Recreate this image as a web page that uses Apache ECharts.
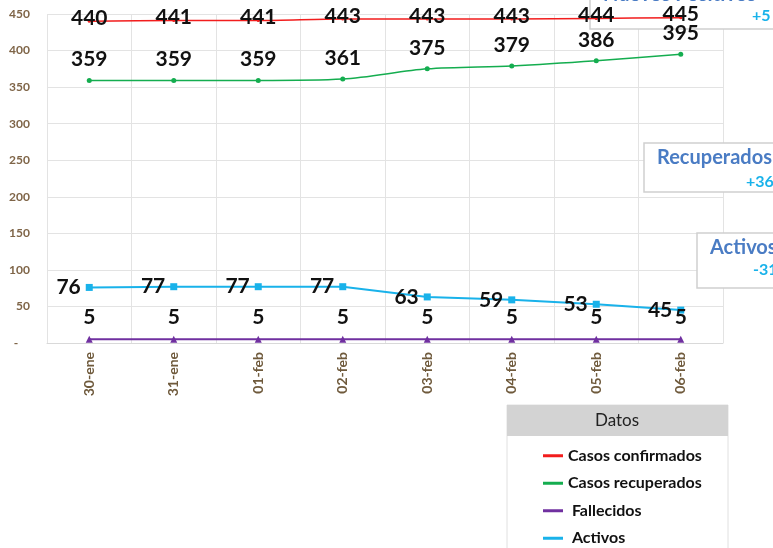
<!DOCTYPE html>
<html lang="es">
<head>
    <meta charset="UTF-8">
    <title>Casos</title>
    <script src="https://cdn.jsdelivr.net/npm/echarts@6/dist/echarts.min.js"></script>
    <style>
        body { margin: 0; background: #fff; }
        #chart { width: 773px; height: 548px; }
    </style>
</head>
<body>
    <div id="chart"></div>

    <script>
        var fechas = ['30-ene', '31-ene', '01-feb', '02-feb', '03-feb', '04-feb', '05-feb', '06-feb'];
        var confirmados = [440, 441, 441, 443, 443, 443, 444, 445];
        var recuperados = [359, 359, 359, 361, 375, 379, 386, 395];
        var fallecidos = [5, 5, 5, 5, 5, 5, 5, 5];
        var activos = [76, 77, 77, 77, 63, 59, 53, 45];

        var fuente = 'Lato';
        var etiqueta = { show: true, color: '#111', fontWeight: 'bold', fontSize: 21, fontFamily: fuente };

        var chartDom = document.getElementById('chart');
        var myChart = echarts.init(chartDom);

        // cajas de texto a la derecha (por encima de la rejilla, por debajo de las series)
        function caja(x, y, w, h, titulo, ty, valor, vx, vy) {
            return {
                type: 'group',
                children: [
                    { type: 'rect', z: 1, shape: { x: x, y: y, width: w, height: h },
                      style: { fill: '#fff', stroke: '#d0d0d0', lineWidth: 1.5 } },
                    { type: 'text', z: 1, style: { x: x + 13, y: ty, text: titulo, fill: '#4a7cc4',
                      font: 'bold 20px ' + fuente, verticalAlign: 'middle' } },
                    { type: 'text', z: 1, style: { x: vx, y: vy, text: valor, fill: '#19b2ea',
                      font: 'bold 16px ' + fuente, verticalAlign: 'middle' } }
                ]
            };
        }

        var option = {
            animation: false,
            grid: { left: 47, right: 50, top: 14, bottom: 205 },
            xAxis: {
                type: 'category',
                data: fechas,
                axisTick: { show: false },
                axisLine: { lineStyle: { color: '#d9d9d9' } },
                splitLine: { show: true, lineStyle: { color: '#e3e3e3' } },
                axisLabel: { rotate: 90, color: '#6f5a3c', fontWeight: 'bold', fontSize: 14, fontFamily: fuente, margin: 9 }
            },
            yAxis: {
                type: 'value',
                min: 0,
                max: 450,
                interval: 50,
                axisLine: { show: false },
                axisTick: { show: false },
                splitLine: { lineStyle: { color: '#e3e3e3' } },
                axisLabel: {
                    color: '#7f6548', fontWeight: 'bold', fontSize: 12, fontFamily: fuente, margin: 17,
                    formatter: function (v) { return v === 0 ? '-    ' : v; }
                }
            },
            legend: {
                orient: 'vertical',
                left: 538,
                top: 437,
                height: 200,
                icon: 'rect',
                itemWidth: 20,
                itemHeight: 3,
                itemGap: 0,
                textStyle: { color: '#111', fontWeight: 'bold', fontSize: 16, fontFamily: fuente, lineHeight: 27.5 },
                formatter: function (n) {
                    return n === 'Fallecidos' || n === 'Activos' ? ' ' + n : n;
                },
                data: ['Casos confirmados', 'Casos recuperados', 'Fallecidos', 'Activos']
            },
            graphic: [
                { type: 'rect', shape: { x: 507, y: 405, width: 221, height: 150 },
                  style: { fill: '#fff', stroke: '#e0e0e0', lineWidth: 1 }, z: -1 },
                { type: 'rect', shape: { x: 507, y: 405, width: 221, height: 31 },
                  style: { fill: '#d3d3d3' }, z: -1 },
                { type: 'text', style: { x: 617, y: 421, text: 'Datos', fill: '#222',
                  font: '17px ' + fuente, align: 'center', verticalAlign: 'middle' } },
                caja(590, -20, 200, 49, 'Nuevos Positivos', -5, '+5', 752, 16),
                caja(644, 143, 150, 49, 'Recuperados', 158, '+36', 746, 182),
                caja(697, 233, 100, 55, 'Activos', 248, '-31', 753, 270)
            ],
            series: [
                {
                    name: 'Casos confirmados',
                    type: 'line',
                    data: confirmados,
                    smooth: 0.3,
                    symbol: 'circle',
                    symbolSize: 3,
                    color: '#f21d1d',
                    lineStyle: { width: 1.5 },
                    label: Object.assign({ position: 'inside', offset: [0, -3] }, etiqueta)
                },
                {
                    name: 'Casos recuperados',
                    type: 'line',
                    data: recuperados,
                    smooth: 0.3,
                    symbol: 'circle',
                    symbolSize: 5,
                    color: '#14ad4f',
                    lineStyle: { width: 1.5 },
                    label: Object.assign({ position: 'top', distance: 8 }, etiqueta)
                },
                {
                    name: 'Fallecidos',
                    type: 'line',
                    data: fallecidos,
                    symbol: 'triangle',
                    symbolSize: 7,
                    color: '#7030a0',
                    lineStyle: { width: 2 },
                    label: Object.assign({ position: 'top', distance: 8 }, etiqueta)
                },
                {
                    name: 'Activos',
                    type: 'line',
                    data: activos,
                    symbol: 'rect',
                    symbolSize: 7,
                    color: '#19b2ea',
                    lineStyle: { width: 2 },
                    label: Object.assign({ position: 'left', distance: 5 }, etiqueta)
                }
            ]
        };

        option && myChart.setOption(option);
    </script>
</body>
</html>
